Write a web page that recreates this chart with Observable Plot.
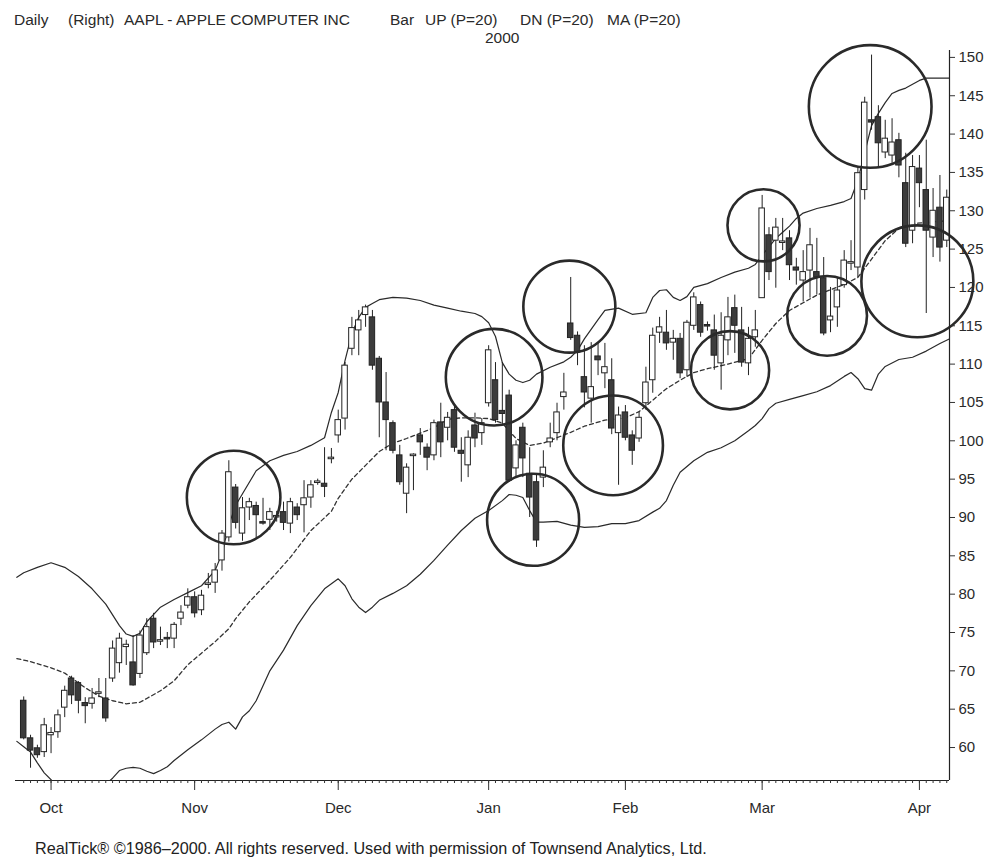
<!DOCTYPE html>
<html>
<head>
<meta charset="utf-8">
<script src="https://cdn.jsdelivr.net/npm/d3@7"></script>
<script src="https://cdn.jsdelivr.net/npm/@observablehq/plot@0.6"></script>
<style>
  html, body { margin: 0; padding: 0; background: #fff; }
  #page { position: relative; width: 992px; height: 861px; background: #fff; overflow: hidden;
          font-family: "Liberation Sans", Arial, sans-serif; color: #2a2a2a; }
  .hd { position: absolute; font-size: 15.5px; white-space: nowrap; top: 11px; line-height: 18px; z-index: 2; }
  #chart { position: absolute; left: 0; top: 40px; z-index: 1; }
  #foot { position: absolute; left: 35px; top: 838px; font-size: 16.2px; line-height: 20px; white-space: nowrap; color: #222; }
</style>
</head>
<body>
<div id="page">
  <span class="hd" style="left:14px">Daily</span>
  <span class="hd" style="left:68px">(Right)</span>
  <span class="hd" style="left:124px">AAPL - APPLE COMPUTER INC</span>
  <span class="hd" style="left:390px">Bar</span>
  <span class="hd" style="left:425px">UP (P=20)</span>
  <span class="hd" style="left:520px">DN (P=20)</span>
  <span class="hd" style="left:607px">MA (P=20)</span>
  <span class="hd" style="left:485px; top:29px">2000</span>
  <div id="chart"></div>
  <div id="foot">RealTick® ©1986–2000. All rights reserved. Used with permission of Townsend Analytics, Ltd.</div>
</div>
<script>
// ---- Daily AAPL prices (trading-day index 0 = Sep 27 1999) ----
const open = [66.1,61.2,59.9,59.4,61.6,62.0,65.2,69.0,68.4,65.8,65.7,67.0,66.4,69.0,71.0,73.1,71.1,69.6,72.3,76.8,
73.8,74.3,74.2,76.8,78.5,79.6,77.9,81.2,81.5,84.4,87.4,93.9,87.9,91.3,91.5,89.4,89.7,90.0,90.7,89.2,
91.3,91.6,92.6,94.5,94.4,97.6,100.7,102.9,112.0,114.4,116.4,116.1,110.7,105.0,102.3,98.1,93.1,98.0,100.7,99.1,
98.1,102.4,101.7,104.0,98.7,96.8,102.0,101.0,104.9,107.9,103.9,105.9,96.4,101.7,95.7,94.6,95.2,99.8,101.0,105.7,
115.3,113.7,108.3,105.5,111.0,108.8,107.9,101.0,103.7,100.7,100.3,104.9,107.9,114.1,114.1,112.8,113.3,109.2,115.0,117.7,
115.1,114.4,110.1,113.1,117.3,114.4,110.1,113.5,118.6,126.8,126.1,125.8,126.4,122.6,120.9,122.2,122.0,121.2,115.7,117.4,
120.3,123.1,122.6,132.7,141.8,142.2,137.6,137.2,139.2,133.6,127.4,135.5,132.7,126.5,130.4,126.1];
const high = [66.6,61.6,60.3,63.8,62.6,64.9,68.0,69.3,68.6,66.5,67.7,69.0,69.0,73.9,74.9,74.0,74.6,75.2,76.8,77.5,
75.7,75.0,76.3,78.5,80.7,80.3,80.5,82.7,84.0,88.3,97.4,94.3,92.6,92.5,92.0,92.5,91.2,90.8,92.0,92.5,
91.8,94.8,94.8,95.0,99.1,99.0,104.0,110.2,116.1,117.0,117.7,117.0,111.0,108.9,102.6,99.4,97.0,98.3,101.6,99.6,
102.7,104.9,103.7,104.5,100.4,101.3,103.6,102.9,112.4,110.2,110.2,106.6,100.0,102.3,99.1,95.7,98.7,102.3,104.9,108.8,
121.3,114.2,112.4,112.8,112.7,112.7,110.7,104.4,104.6,101.3,103.7,109.6,114.7,116.1,117.0,114.4,114.0,115.7,119.3,118.1,
115.5,116.4,116.7,118.7,119.0,117.4,114.8,117.0,132.0,127.8,129.0,129.0,127.4,123.8,124.8,127.7,126.4,123.9,120.0,121.2,
124.8,126.1,135.7,144.8,150.3,143.7,141.8,142.0,140.1,137.5,137.2,137.2,139.2,132.9,134.6,132.7];
const low = [61.0,57.3,58.6,58.7,59.2,61.2,63.9,65.6,64.4,63.1,65.0,66.5,63.3,68.5,69.7,70.7,68.0,69.0,72.0,72.9,
73.3,72.9,72.9,75.9,78.1,76.9,77.2,80.7,80.1,83.0,86.8,88.5,86.9,89.6,87.3,89.0,88.3,89.4,88.3,87.9,
89.6,88.0,91.2,94.2,92.6,97.0,99.7,101.4,111.1,111.1,114.8,109.2,100.4,98.7,98.3,94.2,90.5,93.5,98.1,96.1,
97.4,97.8,100.0,98.5,94.6,95.2,99.1,99.4,104.4,102.3,102.0,94.6,95.2,95.2,90.0,86.1,93.9,99.1,100.0,104.0,
113.1,109.8,104.3,102.3,108.5,106.8,100.8,94.2,100.0,96.8,99.8,104.0,106.2,112.7,111.8,110.5,108.1,108.3,114.4,113.5,
114.3,109.2,106.6,111.1,111.4,109.6,108.5,112.2,118.6,120.9,119.9,124.8,120.9,120.3,118.1,118.6,119.0,113.7,114.1,114.8,
119.9,122.2,121.3,131.4,140.5,135.5,136.8,136.2,134.3,125.2,125.7,130.4,116.6,123.9,123.3,125.2];
const close = [61.2,59.6,59.0,62.9,61.9,64.2,67.4,66.8,66.1,65.4,66.4,67.2,63.8,72.9,74.2,73.4,68.1,74.6,75.7,73.7,
74.0,74.1,76.0,77.6,79.6,77.5,79.8,81.4,83.1,87.9,95.9,89.3,91.2,92.0,90.3,89.2,90.7,90.2,89.3,92.0,
90.3,92.5,94.2,94.7,94.0,97.8,102.7,109.8,114.7,115.7,117.4,109.8,105.0,102.7,98.7,94.6,96.5,98.2,99.8,97.8,
102.3,99.8,103.0,99.1,98.3,100.4,100.3,102.3,111.8,102.7,103.5,94.8,99.4,97.7,92.6,87.0,96.5,100.3,103.7,106.3,
113.4,111.5,106.3,107.0,110.5,109.6,101.6,103.3,100.4,98.7,103.0,107.6,113.7,114.8,112.7,113.3,108.8,115.4,118.7,114.1,
114.9,111.1,113.7,116.1,115.0,110.2,113.3,114.4,130.3,122.0,127.8,126.0,122.9,122.2,122.0,125.5,121.3,114.0,116.2,119.6,
123.5,123.3,134.9,144.1,141.5,138.8,139.4,138.9,135.9,125.7,135.7,133.6,127.4,130.0,125.2,131.7];

// ---- Bollinger bands: [trading-day index, price] ----
const upperBand = [[-1,82.2],[0,82.8],[2,83.5],[4,84.1],[6,83.5],[8,82.3],[10,80.7],[12,78.7],[14,75.9],[15,74.8],[16,74.5],
[17,74.9],[18,76.4],[20,78.3],[22,79.3],[24,80.2],[26,81.1],[28,83.1],[29,85.3],[30,89.0],[31,91.6],[32,93.1],[34,96.1],
[36,97.4],[38,98.1],[40,98.6],[42,99.4],[44,100.4],[45,103.7],[46,106.3],[47,110.5],[48,114.0],[49,116.1],[50,117.4],
[51,117.9],[52,118.4],[54,118.7],[56,118.6],[58,118.3],[60,117.7],[62,117.3],[64,116.9],[66,116.6],[67,116.2],[68,115.4],
[69,113.6],[70,110.2],[71,108.7],[72,107.9],[73,107.6],[74,107.9],[75,108.7],[77,109.6],[79,110.3],[80,110.9],[81,111.8],
[82,113.3],[84,115.8],[85,117.0],[87,117.3],[89,116.5],[91,116.7],[92,118.7],[93,119.6],[94,119.7],[95,118.7],[96,118.3],
[97,118.8],[98,120.0],[100,120.5],[102,121.3],[104,122.0],[106,122.5],[107,123.0],[108,124.2],[109,125.3],[110,126.4],
[111,127.2],[112,128.0],[113,129.0],[114,129.7],[116,130.3],[118,130.7],[120,131.2],[121,131.6],[122,134.0],[123,137.6],
[124,141.1],[125,142.7],[126,144.1],[127,145.3],[128,145.7],[129,146.0],[130,146.5],[131,147.0],[132,147.3],[135.4,147.3]];
const lowerBand = [[-1,60.8],[0,60.1],[1,59.4],[2,58.0],[3,56.7],[4,55.8],[5,54.8],[7,54.0],[9,53.8],[11,54.3],[12,55.2],
[13,56.0],[14,57.0],[15,57.3],[16,57.4],[17,57.3],[18,56.9],[19,56.6],[20,57.0],[21,57.5],[22,58.3],[24,59.7],[26,61.0],
[28,62.4],[29,63.0],[30,63.3],[31,62.4],[32,64.0],[33,64.8],[34,66.1],[36,70.0],[38,72.7],[40,75.9],[42,78.5],[44,80.7],
[46,82.0],[47,81.1],[48,79.4],[49,78.3],[50,77.6],[51,78.3],[52,79.2],[54,80.1],[56,81.1],[58,82.6],[60,84.4],[62,86.4],
[64,88.3],[66,89.9],[68,90.9],[70,92.2],[71,93.0],[72,92.9],[73,92.6],[74,90.9],[75,89.4],[76,89.4],[78,89.5],[80,89.0],
[82,88.7],[84,88.8],[86,89.2],[88,89.2],[90,89.6],[92,90.7],[93,91.2],[94,92.2],[95,94.2],[96,95.9],[98,97.4],[100,98.5],
[102,99.1],[104,100.0],[106,101.3],[107,102.0],[108,102.9],[109,104.2],[110,104.9],[112,105.4],[114,105.9],[116,106.4],
[118,107.2],[120,108.4],[121,108.9],[122,108.1],[123,106.8],[124,106.6],[125,108.7],[126,109.7],[128,110.6],[130,110.9],
[132,111.7],[134,112.7],[135.4,113.3]];
const movingAvg = [[-1,71.6],[1,71.2],[4,70.4],[6,69.7],[9,67.8],[11,66.7],[13,66.1],[15,65.7],[17,65.9],[18,66.4],[20,67.4],
[22,68.7],[24,70.8],[26,72.3],[28,73.8],[30,75.5],[31,76.8],[33,79.0],[36,81.8],[39,84.8],[42,88.3],[45,90.8],[46,92.5],
[48,95.0],[50,96.8],[52,98.6],[54,99.7],[56,100.3],[58,101.0],[60,101.7],[62,102.8],[64,103.0],[66,103.0],[68,102.9],
[70,102.3],[72,100.3],[74,99.4],[76,99.7],[78,100.4],[80,101.1],[82,101.9],[85,102.7],[88,103.0],[90,103.8],[92,105.3],
[94,106.8],[96,107.9],[98,108.9],[100,109.4],[103,110.0],[106,110.7],[108,113.1],[110,115.3],[112,117.0],[114,118.0],
[116,119.0],[118,119.7],[120,120.4],[122,121.3],[123,122.5],[124,123.7],[126,126.1],[128,127.7],[130,128.3],[132,128.5],[135.4,128.7]];

// ---- Hand-drawn circles (centre day index, centre price, radius in price units) ----
const circleDay   = [30.7, 68.8, 79.8, 74.5, 86.2, 103.3, 108.2, 117.5, 123.8, 130.7];
const circlePrice = [92.6, 108.3, 117.5, 89.7, 99.4, 109.2, 128.1, 116.3, 143.6, 120.8];
const circleSize  = [6.1, 6.3, 6.0, 6.0, 6.5, 5.1, 4.7, 5.2, 8.0, 7.3];

// ---- Axis ticks ----
const monthNames = ["Oct", "Nov", "Dec", "Jan", "Feb", "Mar", "Apr"];
const monthStartDay = [4, 25, 46, 68, 88, 108, 131];
const priceTicks = [60,65,70,75,80,85,90,95,100,105,110,115,120,125,130,135,140,145,150];

// ---- build ----
const candles = open.map((o, i) => ({day: i, open: o, high: high[i], low: low[i], close: close[i]}));
const allDays = candles.map(d => d.day);
const circles = circleDay.map((d, i) => ({day: d, price: circlePrice[i], size: circleSize[i]}));
const xDomain = [-1.2, 135.4];
const yDomain = [55.7, 150.9];
const H = 780, mt = 10, mb = 40;
const pxPerUnit = (H - mt - mb) / (yDomain[1] - yDomain[0]);
const half = 0.4;
const monthLabel = new Map(monthStartDay.map((d, i) => [d, monthNames[i]]));

const chart = Plot.plot({
  width: 992, height: H,
  marginTop: mt, marginBottom: mb, marginLeft: 15, marginRight: 43,
  style: {fontFamily: "'Liberation Sans', Arial, sans-serif", fontSize: "14px", color: "#2a2a2a", background: "transparent"},
  x: {domain: xDomain, label: null},
  y: {domain: yDomain, label: null},
  r: {type: "linear", domain: [0, 10], range: [0, 10 * pxPerUnit]},
  marks: [
    Plot.line(upperBand, {x: d => d[0], y: d => d[1], stroke: "#2a2a2a", strokeWidth: 1.2, clip: true}),
    Plot.line(lowerBand, {x: d => d[0], y: d => d[1], stroke: "#2a2a2a", strokeWidth: 1.2, clip: true}),
    Plot.line(movingAvg, {x: d => d[0], y: d => d[1], stroke: "#333", strokeWidth: 1.3, strokeDasharray: "4,3", clip: true}),
    Plot.ruleX(candles, {x: "day", y1: "low", y2: "high", stroke: "#222", strokeWidth: 1}),
    Plot.rect(candles, {x1: d => d.day - half, x2: d => d.day + half, y1: "open", y2: "close",
      fill: d => d.close >= d.open ? "white" : "#3c3c3c", stroke: "#222", strokeWidth: 1}),
    Plot.dot(circles, {x: "day", y: "price", r: "size", stroke: "#2a2a2a", strokeWidth: 2.6, fill: "none"}),
    Plot.ruleY([yDomain[0]], {stroke: "#222", strokeWidth: 1.2}),
    Plot.ruleX([xDomain[1]], {stroke: "#222", strokeWidth: 1.2}),
    Plot.axisX({ticks: allDays, tickSize: 3, tickFormat: () => "", stroke: "#333"}),
    Plot.axisX({ticks: monthStartDay, tickSize: 10, tickPadding: 12, tickFormat: d => monthLabel.get(d), fontSize: 15, stroke: "#333"}),
    Plot.axisY({anchor: "right", ticks: priceTicks, tickSize: 5, tickPadding: 4, fontSize: 15, stroke: "#333"})
  ]
});
document.getElementById("chart").appendChild(chart);
</script>
</body>
</html>
